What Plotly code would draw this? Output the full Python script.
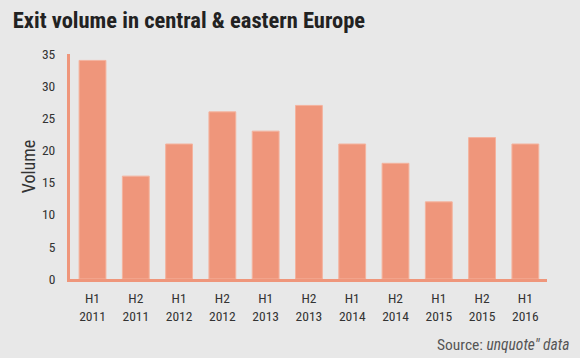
import plotly.graph_objects as go

categories = ["H1<br>2011", "H2<br>2011", "H1<br>2012", "H2<br>2012", "H1<br>2013", "H2<br>2013",
              "H1<br>2014", "H2<br>2014", "H1<br>2015", "H2<br>2015", "H1<br>2016"]
volumes = [34, 16, 21, 26, 23, 27, 21, 18, 12, 22, 21]
y_ticks = [0, 5, 10, 15, 20, 25, 30, 35]

BAR = "#EF967B"
BG = "#E8E8E8"
FONT = "Liberation Sans Narrow, Roboto Condensed, DejaVu Sans Condensed, sans-serif"

fig = go.Figure(go.Bar(
    x=categories, y=volumes,
    marker=dict(color=BAR, line=dict(color="#F4B39E", width=1)),
    width=0.62,
))

fig.update_layout(
    width=580, height=358,
    margin=dict(l=70, r=33, t=54, b=79),
    paper_bgcolor=BG, plot_bgcolor=BG,
    showlegend=False,
    font=dict(family=FONT, size=14, color="#333333"),
    title=dict(text="<b>Exit volume in central &amp; eastern Europe</b>",
               x=0.022, xanchor="left", y=0.945, yanchor="middle",
               font=dict(family=FONT, size=22.5, color="#222222")),
    xaxis=dict(showline=True, linecolor=BAR, linewidth=3, showgrid=False,
               ticks="", ticklabelstandoff=5, range=[-0.52, 10.5],
               tickfont=dict(size=13.5, color="#333333")),
    yaxis=dict(showline=True, linecolor=BAR, linewidth=3, showgrid=False,
               zeroline=False, range=[0, 35], tickvals=y_ticks, ticks="",
               ticklabelstandoff=9, tickfont=dict(size=13.5, color="#333333"),
               title=dict(text="Volume", font=dict(size=18, color="#333333"), standoff=2)),
    annotations=[dict(text="Source: <i>unquote\" data</i>", xref="paper", yref="paper",
                      x=(571 - 70) / (580 - 70 - 33), y=-0.295, xanchor="right", yanchor="middle",
                      showarrow=False,
                      font=dict(family=FONT, size=15.5, color="#555555"))],
)

fig.write_html("out.html", config={"displayModeBar": False},
               post_script="document.body.style.margin='0';document.body.style.background='#E8E8E8';")
